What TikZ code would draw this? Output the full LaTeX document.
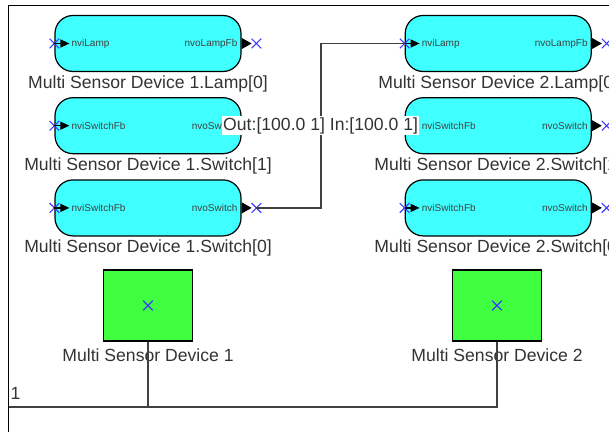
\documentclass[tikz,border=0pt]{standalone}
\usepackage{fontspec}
\setmainfont{Liberation Sans}
\usepackage{xcolor}
\usepackage{tikz}
\usetikzlibrary{positioning, shapes.misc, arrows.meta}
\definecolor{blockcyan}{RGB}{64,255,255}
\definecolor{devgreen}{RGB}{64,255,64}
\definecolor{markblue}{RGB}{60,60,255}
\tikzstyle{block} = [rectangle, rounded corners=18pt, minimum width=186pt, minimum height=56pt, draw=black, line width=1.2pt, fill=blockcyan]
\tikzstyle{device} = [rectangle, minimum width=89pt, minimum height=71pt, draw=black, line width=1.2pt, fill=devgreen]
\tikzstyle{arrow} = [line width=1.8pt, black!75]

\begin{document}
\begin{tikzpicture}[x=1pt, y=1pt]
    \tikzset{xmark/.style = {draw=markblue, shape=cross out, minimum size=8.5pt, inner sep=0, line width=1.1pt},
    portin/.style = {line width=1.2pt, -{Triangle[length=9pt, width=8pt]}},
    portout/.style = {line width=1pt, -{Triangle[length=10pt, width=11pt]}},
    porttext/.style = {inner sep=0, text=black!75, font=\fontsize{10}{12}\selectfont},
    blocklabel/.style = {inner sep=0, text=black!80, font=\fontsize{17.6}{20}\selectfont},
    linklabel/.style = {fill=white, inner sep=1pt, text=black!80, font=\fontsize{17.6}{20}\selectfont},
    frame/.style = {line width=1.8pt, black}}

\useasboundingbox (0,0) rectangle (609,432);
\draw [frame] (8.5,0) -- (8.5,426.5) -- (609,426.5);

% device 1 blocks
\node (lamp1) [block] at (148,388.5) {};
\node (lamp1txt) [blocklabel, below=3pt of lamp1] {Multi Sensor Device 1.Lamp[0]};
\node (sw11) [block, below=25pt of lamp1] {};
\node (sw11txt) [blocklabel, below=3pt of sw11] {Multi Sensor Device 1.Switch[1]};
\node (sw10) [block, below=25pt of sw11] {};
\node (sw10txt) [blocklabel, below=3pt of sw10] {Multi Sensor Device 1.Switch[0]};

% device 2 blocks
\node (lamp2) [block, right=163pt of lamp1] {};
\node (lamp2txt) [blocklabel, below=3pt of lamp2] {Multi Sensor Device 2.Lamp[0]};
\node (sw21) [block, below=25pt of lamp2] {};
\node (sw21txt) [blocklabel, below=3pt of sw21] {Multi Sensor Device 2.Switch[1]};
\node (sw20) [block, below=25pt of sw21] {};
\node (sw20txt) [blocklabel, below=3pt of sw20] {Multi Sensor Device 2.Switch[0]};

% ports
\node (lamp1in) [porttext, right=17pt of lamp1.west] {nviLamp};
\node (lamp1out) [porttext, left=4pt of lamp1.east] {nvoLampFb};
\node (lamp1xi) [xmark] at (lamp1.west) {};
\node (lamp1xo) [xmark, right=10pt of lamp1.east] {};
\draw [portin] (lamp1xi.center) -- ++(15,0);
\draw [portout] (lamp1.east) -- ++(10,0);

\node (sw11in) [porttext, right=17pt of sw11.west] {nviSwitchFb};
\node (sw11out) [porttext, left=4pt of sw11.east] {nvoSwitch};
\node (sw11xi) [xmark] at (sw11.west) {};
\draw [portin] (sw11xi.center) -- ++(15,0);

\node (sw10in) [porttext, right=17pt of sw10.west] {nviSwitchFb};
\node (sw10out) [porttext, left=4pt of sw10.east] {nvoSwitch};
\node (sw10xi) [xmark] at (sw10.west) {};
\node (sw10xo) [xmark, right=10pt of sw10.east] {};
\draw [portin] (sw10xi.center) -- ++(15,0);
\draw [portout] (sw10.east) -- ++(10,0);

\node (lamp2in) [porttext, right=17pt of lamp2.west] {nviLamp};
\node (lamp2out) [porttext, left=4pt of lamp2.east] {nvoLampFb};
\node (lamp2xi) [xmark] at (lamp2.west) {};
\node (lamp2xo) [xmark, right=10pt of lamp2.east] {};
\draw [portin] (lamp2xi.center) -- ++(15,0);
\draw [portout] (lamp2.east) -- ++(10,0);

\node (sw21in) [porttext, right=17pt of sw21.west] {nviSwitchFb};
\node (sw21out) [porttext, left=4pt of sw21.east] {nvoSwitch};
\node (sw21xo) [xmark, right=10pt of sw21.east] {};
\draw [portout] (sw21.east) -- ++(10,0);

\node (sw20in) [porttext, right=17pt of sw20.west] {nviSwitchFb};
\node (sw20out) [porttext, left=4pt of sw20.east] {nvoSwitch};
\node (sw20xi) [xmark] at (sw20.west) {};
\node (sw20xo) [xmark, right=10pt of sw20.east] {};
\draw [portin] (sw20xi.center) -- ++(15,0);
\draw [portout] (sw20.east) -- ++(10,0);

% binding
\coordinate [right=79pt of sw10.east] (ajoint);
\coordinate (bjoint) at (ajoint |- lamp2.west);
\draw [arrow] (sw10xo.center) -- (ajoint) -- node [linklabel] {Out:[100.0 1] In:[100.0 1]} (bjoint) -- (lamp2xi.center);

% devices and channel
\node (dev1) [device] at (148,126.5) {};
\node (dev1txt) [blocklabel, below=7pt of dev1] {Multi Sensor Device 1};
\node (dev1x) [xmark] at (dev1.center) {};
\node (dev2) [device] at (497,126.5) {};
\node (dev2txt) [blocklabel, below=7pt of dev2] {Multi Sensor Device 2};
\node (dev2x) [xmark] at (dev2.center) {};

\coordinate (bus) at (8.5,25);
\node (buslabel) [blocklabel, anchor=base west] at (10.5,33) {1};
\draw [arrow] (bus) -- (dev2.south |- bus) -- (dev2.south);
\draw [arrow] (dev1.south) -- (dev1.south |- bus);

\end{tikzpicture}
\end{document}
